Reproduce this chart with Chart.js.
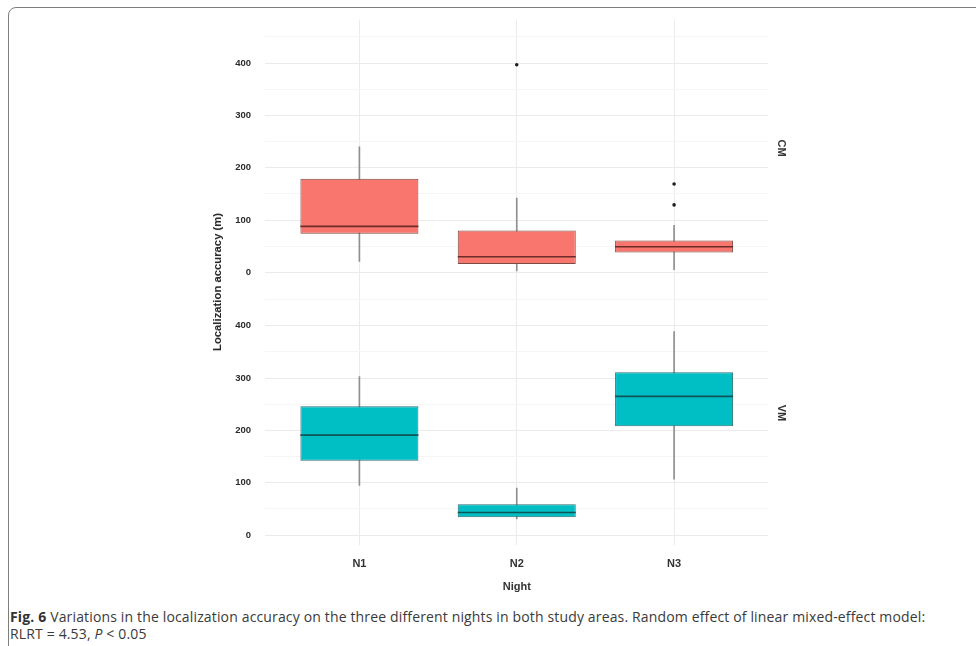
<!DOCTYPE html>
<html>
<head>
<meta charset="utf-8">
<title>Fig. 6 localization accuracy</title>
<script src="https://cdn.jsdelivr.net/npm/chart.js@4.4.0/dist/chart.umd.min.js"></script>
<style>
  html, body { margin: 0; padding: 0; background: #fff; }
  body { width: 976px; height: 646px; position: relative; overflow: hidden; font-family: "Liberation Sans", Arial, sans-serif; }
  #frame { position: absolute; left: 8px; top: 7px; width: 1200px; height: 900px; border: 1.5px solid #7d7d7d; border-radius: 8px; box-sizing: border-box; }
  #plot { position: absolute; left: 0; top: 0; }
  .ytitle { position: absolute; left: 217px; top: 282px; transform: translate(-50%, -50%) rotate(-90deg); font-weight: bold; font-size: 11.3px; color: #222; white-space: nowrap; }
  .strip { position: absolute; left: 782px; transform: translate(-50%, -50%) rotate(90deg); font-weight: bold; font-size: 11px; color: #333; }
  #caption { position: absolute; left: 10px; top: 608px; font-family: "Open Sans", sans-serif; font-size: 14px; letter-spacing: 0.15px; line-height: 17px; color: #3a3a3a; white-space: nowrap; }
  #caption b { color: #333; }
</style>
</head>
<body>
<div id="frame"></div>
<canvas id="plot" width="976" height="600"></canvas>
<div class="ytitle">Localization accuracy (m)</div>
<div class="strip" style="top:148px">CM</div>
<div class="strip" style="top:413px">VM</div>
<div id="caption"><b>Fig. 6</b> Variations in the localization accuracy on the three different nights in both study areas. Random effect of linear mixed-effect model:<br>RLRT = 4.53, <i>P</i> &lt; 0.05</div>

<script>
// categorias e valores
const nights = ['N1', 'N2', 'N3'];
const yTicks = [0, 100, 200, 300, 400];
const yGrid = [0, 50, 100, 150, 200, 250, 300, 350, 400, 450]; // linhas maiores + menores

// CM (painel de cima): whisker baixo, Q1, mediana, Q3, whisker alto
const cmLow = [21, 3, 5];
const cmQ1 = [74, 16, 38];
const cmMed = [88, 30, 49];
const cmQ3 = [179, 80, 61];
const cmHigh = [240, 142, 90];
const cmOutNight = [2, 3, 3];
const cmOutValue = [397, 129, 169];

// VM (painel de baixo)
const vmLow = [95, 31, 107];
const vmQ1 = [142, 34, 208];
const vmMed = [191, 43, 265];
const vmQ3 = [246, 59, 311];
const vmHigh = [303, 90, 389];

const BOX_WIDTH = 0.75;

Chart.defaults.font.family = '"Liberation Sans", Arial, sans-serif';

// monta os datasets de um painel (whiskers, caixas, medianas, outliers)
function panelDatasets(axis, low, q1, med, q3, high, fill, edge, medColor, outX, outY) {
    const sets = [
        {
            type: 'bar',
            data: nights.map((n, i) => ({ x: i + 1, y: [low[i], high[i]] })),
            backgroundColor: '#8f8f8f',
            barThickness: 1,
            grouped: false,
            yAxisID: axis,
            order: 3
        },
        {
            type: 'bar',
            data: nights.map((n, i) => ({ x: i + 1, y: [q1[i], q3[i]] })),
            backgroundColor: fill,
            borderColor: edge,
            borderWidth: 1,
            borderSkipped: false,
            barPercentage: BOX_WIDTH,
            categoryPercentage: 1,
            grouped: false,
            yAxisID: axis,
            order: 2
        },
        {
            type: 'scatter',
            data: nights.map((n, i) => ({ x: i + 1, y: med[i] })),
            pointStyle: 'line',
            // meia largura da caixa, em pixels da escala x
            pointRadius: (ctx) => {
                const s = ctx.chart.scales.x;
                return s.getPixelForValue(1 + BOX_WIDTH / 2) - s.getPixelForValue(1);
            },
            borderColor: medColor,
            pointBorderWidth: 1.6,
            yAxisID: axis,
            order: 1
        }
    ];
    if (outX) {
        sets.push({
            type: 'scatter',
            data: outX.map((x, i) => ({ x: x, y: outY[i] })),
            pointRadius: 1.8,
            backgroundColor: '#1e1e1e',
            borderWidth: 0,
            yAxisID: axis,
            order: 0
        });
    }
    return sets;
}

function panelAxis() {
    return {
        type: 'linear',
        position: 'left',
        stack: 'panels',
        stackWeight: 1,
        min: -19,
        max: 483,
        afterBuildTicks: (scale) => {
            scale.ticks = yGrid.map(v => ({ value: v }));
        },
        ticks: {
            padding: 14,
            color: '#2b2b2b',
            font: { size: 9.5, weight: 'bold' },
            callback: (v) => yTicks.includes(v) ? v : ''
        },
        grid: {
            color: (ctx) => ctx.tick && yTicks.includes(ctx.tick.value) ? '#ebebeb' : '#f5f5f5',
            drawTicks: false
        },
        border: { display: false },
        afterFit: (scale) => { scale.width = 265; }
    };
}

document.addEventListener('DOMContentLoaded', () => {
    const canvas = document.getElementById('plot');

    new Chart(canvas, {
        type: 'bar',
        data: {
            datasets: [
                ...panelDatasets('yTop', cmLow, cmQ1, cmMed, cmQ3, cmHigh,
                    '#F8766D', '#7a4a46', '#6a2d29', cmOutNight, cmOutValue),
                ...panelDatasets('yBot', vmLow, vmQ1, vmMed, vmQ3, vmHigh,
                    '#00BFC4', '#2f6f71', '#0f5557', null, null)
            ]
        },
        options: {
            responsive: false,
            animation: false,
            layout: { padding: { left: 0, right: 207.5, top: 16, bottom: 0 } },
            plugins: {
                legend: { display: false },
                tooltip: { enabled: false }
            },
            scales: {
                x: {
                    type: 'linear',
                    min: 0.4,
                    max: 3.6,
                    offset: false,
                    ticks: {
                        stepSize: 1,
                        includeBounds: false,
                        padding: 12,
                        color: '#333',
                        font: { size: 11, weight: 'bold' },
                        callback: (v) => nights[v - 1] || ''
                    },
                    grid: { color: '#ebebeb', drawTicks: false, offset: false },
                    border: { display: false },
                    title: {
                        display: true,
                        text: 'Night',
                        color: '#333',
                        font: { size: 11, weight: 'bold' },
                        padding: { top: 4, bottom: 6 }
                    },
                    afterFit: (scale) => { scale.height = 55; }
                },
                // a ordem aqui decide qual painel fica em cima na pilha
                yBot: panelAxis(),
                yTop: panelAxis()
            }
        }
    });
});
</script>
</body>
</html>
